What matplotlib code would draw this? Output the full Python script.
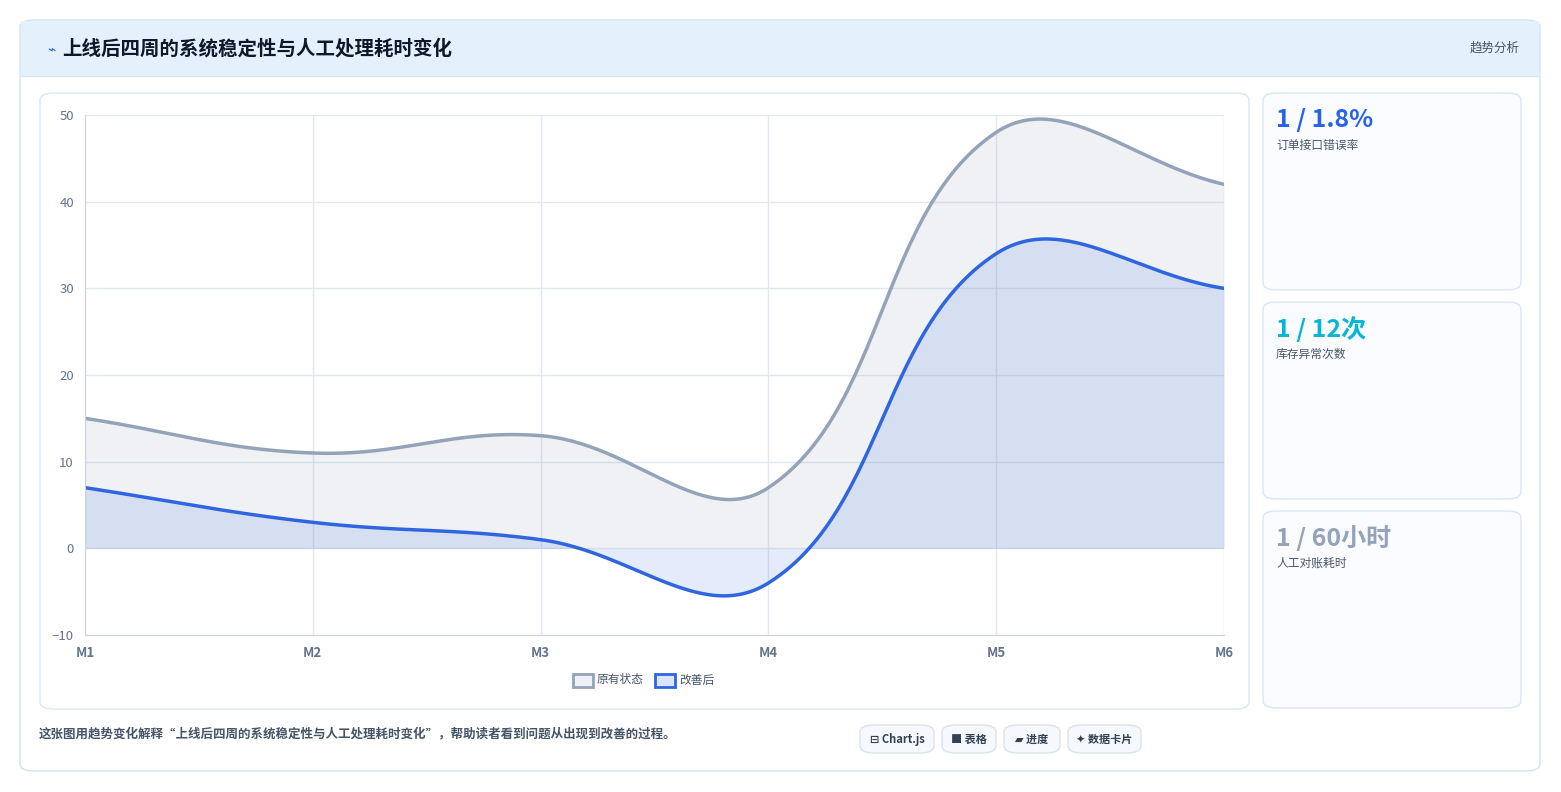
import matplotlib
matplotlib.use("Agg")
from matplotlib import pyplot as plt
from matplotlib.patches import FancyBboxPatch, Rectangle
import numpy as np

plt.rcParams['font.family'] = ['Noto Sans CJK SC', 'DejaVu Sans']

labels = ["M1", "M2", "M3", "M4", "M5", "M6"]
before = [15, 11, 13, 7, 48, 42]
after = [7, 3, 1, -4, 34, 30]
series_names = ["原有状态", "改善后"]
card_values = ["1 / 1.8%", "1 / 12次", "1 / 60小时"]
card_labels = ["订单接口错误率", "库存异常次数", "人工对账耗时"]
card_colors = ["#2563eb", "#06b6d4", "#94a3b8"]
title = "上线后四周的系统稳定性与人工处理耗时变化"
footer = "这张图用趋势变化解释“上线后四周的系统稳定性与人工处理耗时变化”，帮助读者看到问题从出现到改善的过程。"
pills = ["⊟ Chart.js", "■ 表格", "▰ 进度", "✦ 数据卡片"]

W, H = 1561, 792
fig = plt.figure(figsize=(W / 100, H / 100), dpi=100)
fig.patch.set_facecolor("white")


def px_box(x0, y0, x1, y1, fc, ec, r=12, lw=1, z=0):
    p = FancyBboxPatch((x0 / W, 1 - y1 / H), (x1 - x0) / W, (y1 - y0) / H,
                       boxstyle=f"round,pad=0,rounding_size={r / W}",
                       transform=fig.transFigure, fc=fc, ec=ec, lw=lw, zorder=z)
    fig.patches.append(p)


def ftext(x, y, s, **kw):
    fig.text(x / W, 1 - y / H, s, **kw)


# outer card + header
px_box(20, 20, 1540, 771, "white", "#cfe3f3", r=14)
fig.patches.append(Rectangle((21 / W, 1 - 76 / H), 1518 / W, 55 / H,
                             transform=fig.transFigure, fc="#e4f1fd", ec="none", zorder=0.5))
fig.add_artist(plt.Line2D([21 / W, 1539 / W], [1 - 76 / H] * 2, color="#d6e8f6", lw=1))
ftext(47, 49, "⌁", color="#2563eb", fontsize=10, va="center")
ftext(62, 49, title, color="#0f172a", fontsize=14, fontweight="bold", va="center")
ftext(1520, 48, "趋势分析", color="#475569", fontsize=9, ha="right", va="center")

# chart card
px_box(40, 93, 1249, 709, "white", "#dbe7f3", r=14)

# stat cards
tops = [93, 302, 511]
for i, t in enumerate(tops):
    px_box(1263, t, 1521, t + 197, "#fafcff", "#dbe7f3", r=14)
    ftext(1276, t + 27, card_values[i], color=card_colors[i], fontsize=18,
          fontweight="bold", va="center")
    ftext(1276, t + 52, card_labels[i], color="#475569", fontsize=8.5, va="center")

# footer
ftext(39, 734, footer, color="#475569", fontsize=9, fontweight="bold", va="center")
pill_x = [(860, 934), (942, 996), (1004, 1060), (1068, 1141)]
for (a, b), s in zip(pill_x, pills):
    px_box(a, 725, b, 753, "#f5f8fc", "#dbe3ec", r=14)
    ftext((a + b) / 2, 739, s, color="#334155", fontsize=8, fontweight="bold",
          ha="center", va="center")

# chart axes
x0p, x1p, y0p, y1p = 85, 1224, 115, 635
ax = fig.add_axes([x0p / W, 1 - y1p / H, (x1p - x0p) / W, (y1p - y0p) / H])
ax.set_zorder(5)
ax.patch.set_alpha(0)
ymin, ymax = -10, 50
ax.set_xlim(0, len(labels) - 1)
ax.set_ylim(ymin, ymax)
sx = (x1p - x0p) / (len(labels) - 1)
sy = (y1p - y0p) / (ymax - ymin)


def spline(vals, tension=0.4, n=60):
    # Chart.js style bezier, computed in pixel space
    pts = np.array([[i * sx, v * sy] for i, v in enumerate(vals)], float)
    m = len(pts)
    cps = []
    for i in range(m):
        p0 = pts[max(i - 1, 0)]
        p1 = pts[i]
        p2 = pts[min(i + 1, m - 1)]
        d01 = np.hypot(*(p1 - p0))
        d12 = np.hypot(*(p2 - p1))
        tot = d01 + d12
        s01 = d01 / tot if tot else 0
        s12 = d12 / tot if tot else 0
        cps.append((p1 - tension * s01 * (p2 - p0), p1 + tension * s12 * (p2 - p0)))
    xs, ys = [], []
    t = np.linspace(0, 1, n)[:, None]
    for i in range(m - 1):
        a, b = pts[i], pts[i + 1]
        c1, c2 = cps[i][1], cps[i + 1][0]
        c = (1 - t) ** 3 * a + 3 * (1 - t) ** 2 * t * c1 + 3 * (1 - t) * t ** 2 * c2 + t ** 3 * b
        xs.extend(c[:, 0] / sx)
        ys.extend(c[:, 1] / sy)
    return np.array(xs), np.array(ys)


bx, by = spline(before)
axx, ayy = spline(after)
ax.fill_between(bx, by, 0, color="#94a3b8", alpha=0.15, lw=0)
ax.fill_between(axx, ayy, 0, color="#2f66e0", alpha=0.13, lw=0)
ax.plot(bx, by, color="#94a3b8", lw=2.5, solid_capstyle="round")
ax.plot(axx, ayy, color="#2f66e0", lw=2.5, solid_capstyle="round")

ax.set_xticks(range(len(labels)))
ax.set_xticklabels(labels, fontweight="bold")
ax.set_yticks(range(-10, 51, 10))
ax.tick_params(colors="#64748b", labelsize=9.5, length=0, pad=8)
ax.grid(True, color="#e2e8f0", lw=1)
ax.set_axisbelow(True)
for s in ["top", "right"]:
    ax.spines[s].set_visible(False)
for s in ["left", "bottom"]:
    ax.spines[s].set_color("#cbd5e1")

# legend
for (lx, name, col, fc) in [(573, series_names[0], "#94a3b8", "#eef1f5"),
                            (655, series_names[1], "#2f66e0", "#dbe5fa")]:
    fig.patches.append(Rectangle((lx / W, 1 - 687 / H), 20 / W, 13 / H,
                                 transform=fig.transFigure, fc=fc, ec=col, lw=2))
    ftext(lx + 24, 680, name, color="#475569", fontsize=8.5, va="center")

fig.savefig("out.png", dpi=100)
